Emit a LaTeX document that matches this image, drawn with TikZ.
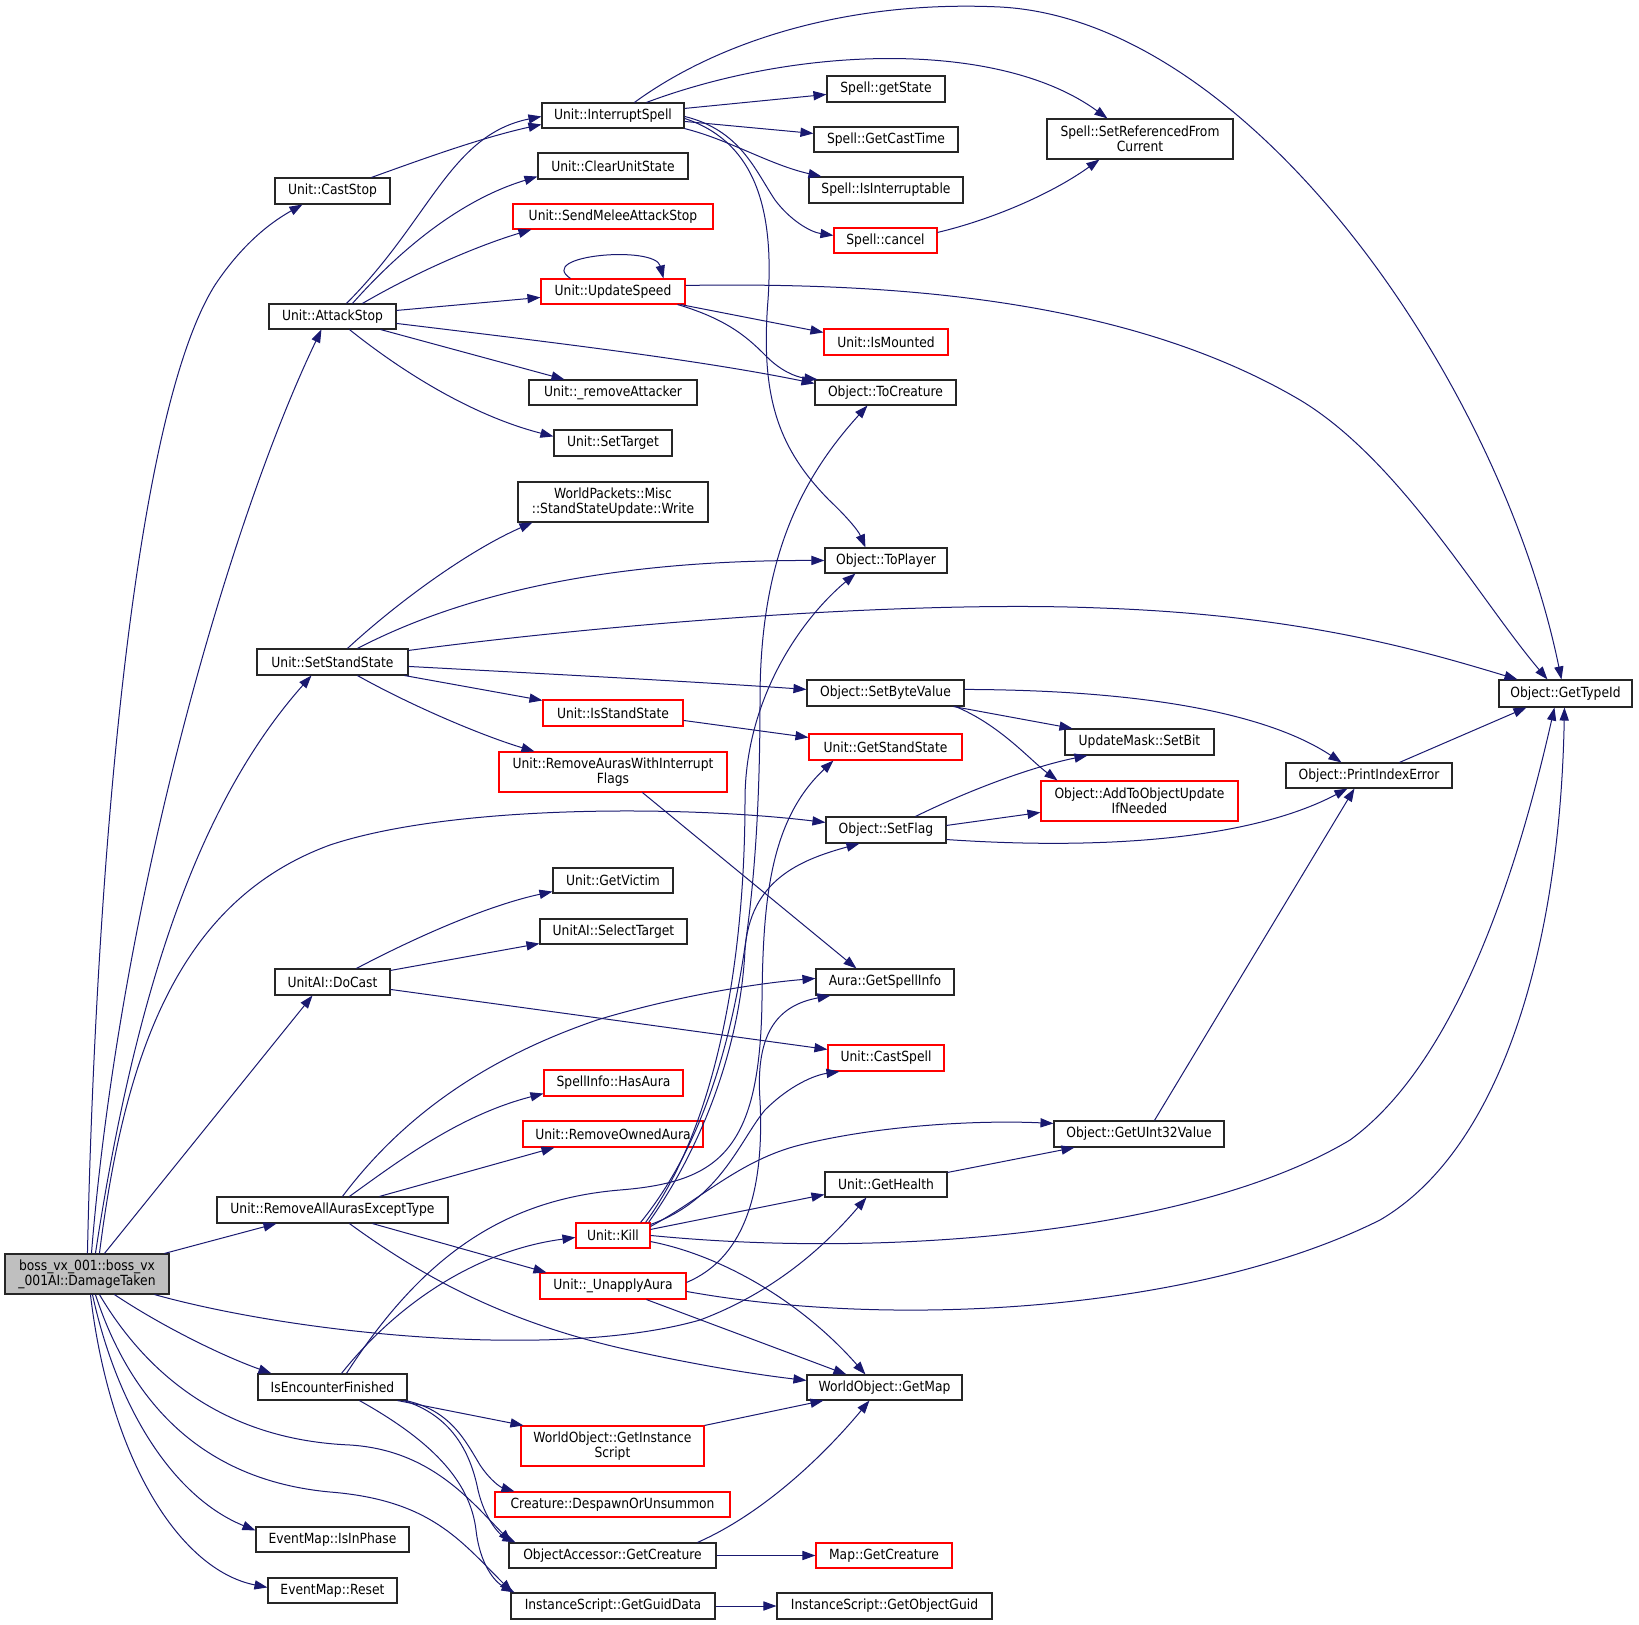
\documentclass[tikz,border=0pt]{standalone}
\usepackage{fontspec}
\setmainfont{DejaVu Sans}[FakeStretch=0.88]
\usetikzlibrary{calc,arrows.meta}
\definecolor{edgeblue}{HTML}{191970}
\definecolor{bossgray}{HTML}{BFBFBF}
\newcommand\fnt{\fontsize{7}{7.5}\selectfont}
\newcommand\mybox[7]{\node[#1, minimum width={(#5-#3)*0.5pt}, minimum height={(#6-#4)*0.5pt}] (#2) at ({(#3+#5)/2},{(#4+#6)/2}) {#7};}
\tikzset{
  fn/.style={draw=black!85, line width=0.55pt, fill=white, inner sep=0pt, align=center, font=\fnt},
  fnred/.style={fn, draw=red},
  fnboss/.style={fn, fill=bossgray},
  e/.style={draw=edgeblue, line width=0.5pt, -{Triangle[length=6.5pt,width=4.6pt]}}
}
\begin{document}
\begin{tikzpicture}[x=0.5pt,y=-0.5pt]
\fill[white] (0,0) rectangle (1639,1625);
\useasboundingbox (0,0) rectangle (1639,1625);
% nodes
\mybox{fnboss}{boss}{5}{1254}{169}{1294}{boss\_vx\_001::boss\_vx\\\_001AI::DamageTaken}
\mybox{fn}{caststop}{275}{178}{390}{204}{Unit::CastStop}
\mybox{fn}{attackstop}{269}{304}{396}{329}{Unit::AttackStop}
\mybox{fn}{setstand}{257}{649}{408}{675}{Unit::SetStandState}
\mybox{fn}{docast}{275}{969}{390}{995}{UnitAI::DoCast}
\mybox{fn}{raaet}{217}{1197}{448}{1223}{Unit::RemoveAllAurasExceptType}
\mybox{fn}{isenc}{258}{1374}{407}{1400}{IsEncounterFinished}
\mybox{fn}{isinphase}{256}{1527}{409}{1552}{EventMap::IsInPhase}
\mybox{fn}{reset}{268}{1578}{397}{1603}{EventMap::Reset}
\mybox{fn}{interrupt}{542}{103}{684}{128}{Unit::InterruptSpell}
\mybox{fn}{clear}{538}{153}{688}{179}{Unit::ClearUnitState}
\mybox{fnred}{sendmelee}{513}{204}{713}{229}{Unit::SendMeleeAttackStop}
\mybox{fnred}{updatespeed}{541}{279}{685}{304}{Unit::UpdateSpeed}
\mybox{fn}{removeatt}{529}{380}{697}{405}{Unit::\_removeAttacker}
\mybox{fn}{settarget}{554}{430}{672}{456}{Unit::SetTarget}
\mybox{fn}{wpwrite}{518}{482}{708}{522}{WorldPackets::Misc\\::StandStateUpdate::Write}
\mybox{fnred}{isstand}{543}{700}{683}{726}{Unit::IsStandState}
\mybox{fnred}{rawif}{499}{752}{727}{792}{Unit::RemoveAurasWithInterrupt\\Flags}
\mybox{fn}{getvictim}{553}{868}{673}{893}{Unit::GetVictim}
\mybox{fn}{selecttarget}{540}{919}{687}{944}{UnitAI::SelectTarget}
\mybox{fnred}{hasaura}{544}{1070}{683}{1096}{SpellInfo::HasAura}
\mybox{fnred}{removeowned}{523}{1121}{703}{1147}{Unit::RemoveOwnedAura}
\mybox{fnred}{kill}{576}{1223}{650}{1248}{Unit::Kill}
\mybox{fnred}{unapply}{540}{1273}{686}{1299}{Unit::\_UnapplyAura}
\mybox{fnred}{getinst}{521}{1426}{704}{1466}{WorldObject::GetInstance\\Script}
\mybox{fnred}{despawn}{495}{1492}{730}{1517}{Creature::DespawnOrUnsummon}
\mybox{fn}{getcreature}{509}{1543}{716}{1568}{ObjectAccessor::GetCreature}
\mybox{fn}{guiddata}{511}{1593}{715}{1619}{InstanceScript::GetGuidData}
\mybox{fn}{getstate}{827}{76}{945}{102}{Spell::getState}
\mybox{fn}{casttime}{814}{127}{958}{152}{Spell::GetCastTime}
\mybox{fn}{interruptable}{809}{177}{963}{203}{Spell::IsInterruptable}
\mybox{fnred}{cancel}{834}{228}{937}{253}{Spell::cancel}
\mybox{fnred}{ismounted}{824}{329}{948}{355}{Unit::IsMounted}
\mybox{fn}{tocreature}{815}{380}{956}{405}{Object::ToCreature}
\mybox{fn}{toplayer}{825}{548}{947}{573}{Object::ToPlayer}
\mybox{fn}{setbyte}{807}{680}{964}{706}{Object::SetByteValue}
\mybox{fnred}{getstandstate}{809}{734}{962}{760}{Unit::GetStandState}
\mybox{fn}{setflag}{826}{817}{946}{843}{Object::SetFlag}
\mybox{fn}{getspellinfo}{816}{969}{954}{995}{Aura::GetSpellInfo}
\mybox{fnred}{castspell}{828}{1045}{944}{1071}{Unit::CastSpell}
\mybox{fn}{gethealth}{825}{1172}{947}{1197}{Unit::GetHealth}
\mybox{fn}{getmap}{807}{1375}{962}{1400}{WorldObject::GetMap}
\mybox{fnred}{mapgetcreature}{816}{1543}{952}{1568}{Map::GetCreature}
\mybox{fn}{getobjectguid}{777}{1593}{992}{1619}{InstanceScript::GetObjectGuid}
\mybox{fn}{srfc}{1047}{119}{1233}{159}{Spell::SetReferencedFrom\\Current}
\mybox{fn}{setbit}{1065}{729}{1214}{755}{UpdateMask::SetBit}
\mybox{fnred}{addto}{1041}{781}{1238}{821}{Object::AddToObjectUpdate\\IfNeeded}
\mybox{fn}{printindex}{1286}{763}{1452}{788}{Object::PrintIndexError}
\mybox{fn}{getuint32}{1054}{1121}{1224}{1147}{Object::GetUInt32Value}
\mybox{fn}{gettypeid}{1499}{680}{1632}{707}{Object::GetTypeId}
% edges from boss
\draw[e] ($(boss.north west)+(83,0)$) .. controls (95,900) and (130,420) .. (215,285) .. controls (245,240) and (275,220) .. ($(caststop.south west)+(28,0)$);
\draw[e] ($(boss.north west)+(87,0)$) .. controls (120,900) and (230,520) .. ($(attackstop.south west)+(53,0)$);
\draw[e] ($(boss.north west)+(91,0)$) .. controls (140,960) and (210,790) .. ($(setstand.south west)+(55,0)$);
\draw[e] ($(boss.north west)+(95,0)$) .. controls (125,1050) and (180,900) .. (330,845) .. controls (450,805) and (680,805) .. ($(setflag.north west)+(0,6)$);
\draw[e] ($(boss.north west)+(100,0)$) -- ($(docast.south west)+(38,0)$);
\draw[e] ($(boss.north west)+(160,0)$) -- ($(raaet.south west)+(60,0)$);
\draw[e] ($(boss.south west)+(150,0)$) .. controls (300,1335) and (560,1360) .. (700,1320) .. controls (780,1290) and (830,1240) .. ($(gethealth.south west)+(42,0)$);
\draw[e] ($(boss.south west)+(110,0)$) .. controls (160,1325) and (220,1355) .. ($(isenc.north west)+(14,0)$);
\draw[e] ($(boss.south west)+(95,0)$) .. controls (150,1380) and (230,1440) .. (350,1445) .. controls (430,1450) and (470,1500) .. ($(getcreature.north west)+(3,0)$);
\draw[e] ($(boss.south west)+(91,0)$) .. controls (130,1400) and (200,1480) .. (330,1492) .. controls (430,1500) and (460,1540) .. ($(guiddata.north west)+(2,0)$);
\draw[e] ($(boss.south west)+(88,0)$) .. controls (120,1420) and (180,1500) .. ($(isinphase.north west)+(0,4)$);
\draw[e] ($(boss.south west)+(86,0)$) .. controls (110,1460) and (180,1570) .. ($(reset.north west)+(0,10)$);
% CastStop
\draw[e] ($(caststop.north west)+(97,0)$) .. controls (420,160) and (480,138) .. ($(interrupt.north west)+(0,22)$);
% AttackStop
\draw[e] ($(attackstop.north west)+(78,0)$) .. controls (430,220) and (450,135) .. ($(interrupt.north west)+(0,14)$);
\draw[e] ($(attackstop.north west)+(84,0)$) .. controls (400,250) and (460,200) .. ($(clear.south west)+(0,-3)$);
\draw[e] ($(attackstop.north west)+(94,0)$) .. controls (420,270) and (480,245) .. ($(sendmelee.south west)+(19,0)$);
\draw[e] ($(attackstop.north east)+(0,7)$) -- ($(updatespeed.north west)+(0,19)$);
\draw[e] ($(attackstop.north east)+(0,20)$) .. controls (550,342) and (700,360) .. ($(tocreature.north west)+(0,4)$);
\draw[e] ($(attackstop.south east)+(-16,0)$) -- ($(removeatt.north west)+(36,0)$);
\draw[e] ($(attackstop.south west)+(81,0)$) .. controls (400,370) and (470,415) .. ($(settarget.north west)+(0,7)$);
% InterruptSpell
\draw[e] ($(interrupt.north west)+(93,0)$) .. controls (720,40) and (850,0) .. (1000,7) .. controls (1250,20) and (1500,380) .. ($(gettypeid.north west)+(63,0)$);
\draw[e] ($(interrupt.north west)+(105,0)$) .. controls (800,45) and (1000,40) .. ($(srfc.north west)+(61,0)$);
\draw[e] ($(interrupt.north east)+(0,6)$) -- ($(getstate.north west)+(0,19)$);
\draw[e] ($(interrupt.north east)+(0,19)$) -- ($(casttime.north west)+(0,7)$);
\draw[e] (interrupt.south east) .. controls (730,140) and (770,165) .. ($(interruptable.north west)+(13,0)$);
\draw[e] ($(interrupt.north east)+(0,14)$) .. controls (740,130) and (755,170) .. (775,200) .. controls (790,220) and (810,232) .. ($(cancel.north west)+(0,8)$);
\draw[e] ($(interrupt.north east)+(0,16)$) .. controls (750,140) and (775,200) .. (768,300) .. controls (760,400) and (780,450) .. (829,500) .. controls (845,515) and (858,530) .. ($(toplayer.north west)+(41,0)$);
\draw[e] ($(cancel.north east)+(0,5)$) .. controls (990,220) and (1050,195) .. ($(srfc.south west)+(53,0)$);
% UpdateSpeed
\draw[e] ($(updatespeed.north west)+(30,0)$) .. controls (535,255) and (655,245) .. ($(updatespeed.north west)+(123,0)$);
\draw[e] ($(updatespeed.north east)+(0,7)$) .. controls (900,282) and (1130,300) .. (1300,400) .. controls (1400,460) and (1480,600) .. ($(gettypeid.north west)+(49,0)$);
\draw[e] ($(updatespeed.south east)+(-5,0)$) -- ($(ismounted.north west)+(0,4)$);
\draw[e] ($(updatespeed.south east)+(-8,0)$) .. controls (730,320) and (750,340) .. (767,357) .. controls (780,370) and (795,377) .. ($(tocreature.north west)+(3,0)$);
% SetStandState
\draw[e] ($(setstand.north west)+(91,0)$) .. controls (400,600) and (470,550) .. ($(wpwrite.south west)+(15,0)$);
\draw[e] ($(setstand.north west)+(101,0)$) .. controls (470,590) and (620,560) .. (toplayer.west);
\draw[e] ($(setstand.north east)+(0,2)$) .. controls (600,625) and (900,600) .. (1100,608) .. controls (1300,615) and (1420,650) .. ($(gettypeid.north west)+(19,0)$);
\draw[e] ($(setstand.north east)+(0,18)$) .. controls (550,674) and (700,682) .. ($(setbyte.north west)+(0,10)$);
\draw[e] ($(setstand.south east)+(-4,0)$) -- ($(isstand.north west)+(0,1)$);
\draw[e] ($(setstand.south west)+(101,0)$) .. controls (410,705) and (480,735) .. ($(rawif.north west)+(36,0)$);
\draw[e] ($(isstand.north east)+(0,21)$) -- ($(getstandstate.north west)+(0,4)$);
\draw[e] ($(rawif.south west)+(144,0)$) -- ($(getspellinfo.north west)+(41,0)$);
% SetByteValue / SetFlag
\draw[e] ($(setbyte.south east)+(-11,0)$) -- ($(setbit.north west)+(8,0)$);
\draw[e] ($(setbyte.south east)+(-9,0)$) .. controls (1000,725) and (1030,760) .. ($(addto.north west)+(17,0)$);
\draw[e] ($(setbyte.north east)+(0,10)$) .. controls (1150,690) and (1270,715) .. ($(printindex.north west)+(56,0)$);
\draw[e] ($(setflag.north west)+(90,0)$) .. controls (980,785) and (1040,765) .. ($(setbit.south west)+(23,0)$);
\draw[e] ($(setflag.north east)+(0,9)$) -- ($(addto.north west)+(0,32)$);
\draw[e] ($(setflag.south east)+(0,-4)$) .. controls (1100,850) and (1250,840) .. ($(printindex.south west)+(62,0)$);
\draw[e] ($(printindex.north west)+(114,0)$) -- ($(gettypeid.south west)+(28,0)$);
\draw[e] ($(getuint32.north west)+(101,0)$) -- ($(printindex.south west)+(69,0)$);
\draw[e] ($(gethealth.north east)+(0,1)$) -- ($(getuint32.south west)+(21,0)$);
% DoCast
\draw[e] ($(docast.north west)+(82,0)$) .. controls (420,935) and (490,905) .. ($(getvictim.south west)+(0,-2)$);
\draw[e] ($(docast.north east)+(0,2)$) -- ($(selecttarget.south west)+(0,-1)$);
\draw[e] ($(docast.north east)+(0,21)$) -- ($(castspell.north west)+(0,5)$);
% RemoveAllAurasExceptType
\draw[e] ($(raaet.north west)+(126,0)$) .. controls (400,1120) and (480,1060) .. (597,1020) .. controls (680,995) and (760,983) .. ($(getspellinfo.north west)+(0,10)$);
\draw[e] ($(raaet.north west)+(133,0)$) .. controls (400,1160) and (460,1115) .. ($(hasaura.south west)+(0,-3)$);
\draw[e] ($(raaet.north west)+(163,0)$) -- ($(removeowned.south west)+(32,0)$);
\draw[e] ($(raaet.south west)+(156,0)$) -- ($(unapply.north west)+(7,0)$);
\draw[e] ($(raaet.south west)+(133,0)$) .. controls (420,1275) and (500,1320) .. (620,1348) .. controls (700,1366) and (760,1375) .. ($(getmap.north west)+(0,6)$);
% Kill
\draw[e] ($(kill.south east)+(0,-7)$) .. controls (720,1255) and (800,1300) .. ($(getmap.north west)+(59,0)$);
\draw[e] ($(kill.north east)+(0,13)$) .. controls (900,1260) and (1200,1230) .. (1350,1140) .. controls (1460,1060) and (1520,860) .. ($(gettypeid.south west)+(56,0)$);
\draw[e] ($(kill.north east)+(0,7)$) -- ($(gethealth.south west)+(0,-3)$);
\draw[e] ($(kill.north east)+(0,4)$) .. controls (700,1200) and (740,1160) .. (800,1145) .. controls (880,1125) and (980,1120) .. ($(getuint32.north west)+(0,3)$);
\draw[e] ($(kill.north east)+(0,2)$) .. controls (720,1200) and (740,1140) .. (765,1110) .. controls (790,1085) and (815,1075) .. ($(castspell.south west)+(12,0)$);
\draw[e] ($(kill.north east)+(-2,0)$) .. controls (700,1150) and (740,1050) .. (745,950) .. controls (750,880) and (800,860) .. ($(setflag.south west)+(34,0)$);
\draw[e] ($(kill.north east)+(-5,0)$) .. controls (720,1120) and (745,950) .. (745,800) .. controls (745,700) and (800,620) .. ($(toplayer.south west)+(31,0)$);
\draw[e] ($(kill.north east)+(-10,0)$) .. controls (740,1100) and (760,900) .. (760,700) .. controls (760,560) and (800,480) .. ($(tocreature.south west)+(53,0)$);
% IsEncounterFinished
\draw[e] ($(isenc.north west)+(84,0)$) .. controls (400,1300) and (480,1250) .. ($(kill.north west)+(0,15)$);
\draw[e] ($(isenc.north west)+(89,0)$) .. controls (420,1260) and (500,1200) .. (620,1190) .. controls (720,1182) and (760,1150) .. (762,1000) .. controls (763,900) and (770,820) .. ($(getstandstate.south west)+(25,0)$);
\draw[e] ($(isenc.south east)+(-10,0)$) -- ($(getinst.north west)+(3,0)$);
\draw[e] ($(isenc.south east)+(-2,0)$) .. controls (450,1410) and (465,1440) .. (480,1465) .. controls (490,1480) and (500,1487) .. ($(despawn.north west)+(20,0)$);
\draw[e] ($(isenc.south east)+(-4,0)$) .. controls (450,1415) and (470,1450) .. (478,1490) .. controls (485,1520) and (500,1535) .. ($(getcreature.north west)+(7,0)$);
\draw[e] ($(isenc.south west)+(102,0)$) .. controls (430,1440) and (470,1480) .. (476,1530) .. controls (480,1565) and (495,1582) .. ($(guiddata.north west)+(4,0)$);
% lower right
\draw[e] (getinst.north east) -- ($(getmap.south west)+(17,0)$);
\draw[e] ($(getcreature.north west)+(189,0)$) .. controls (760,1515) and (820,1460) .. ($(getmap.south west)+(63,0)$);
\draw[e] (getcreature.east) -- (mapgetcreature.west);
\draw[e] (guiddata.east) -- (getobjectguid.west);
% _UnapplyAura
\draw[e] ($(unapply.south west)+(107,0)$) -- ($(getmap.north west)+(40,0)$);
\draw[e] ($(unapply.north east)+(0,19)$) .. controls (900,1330) and (1200,1310) .. (1380,1220) .. controls (1500,1150) and (1560,950) .. ($(gettypeid.south west)+(66,0)$);
\draw[e] ($(unapply.north east)+(0,10)$) .. controls (740,1260) and (765,1200) .. (760,1100) .. controls (755,1030) and (780,1005) .. ($(getspellinfo.south west)+(15,0)$);
\end{tikzpicture}
\end{document}
